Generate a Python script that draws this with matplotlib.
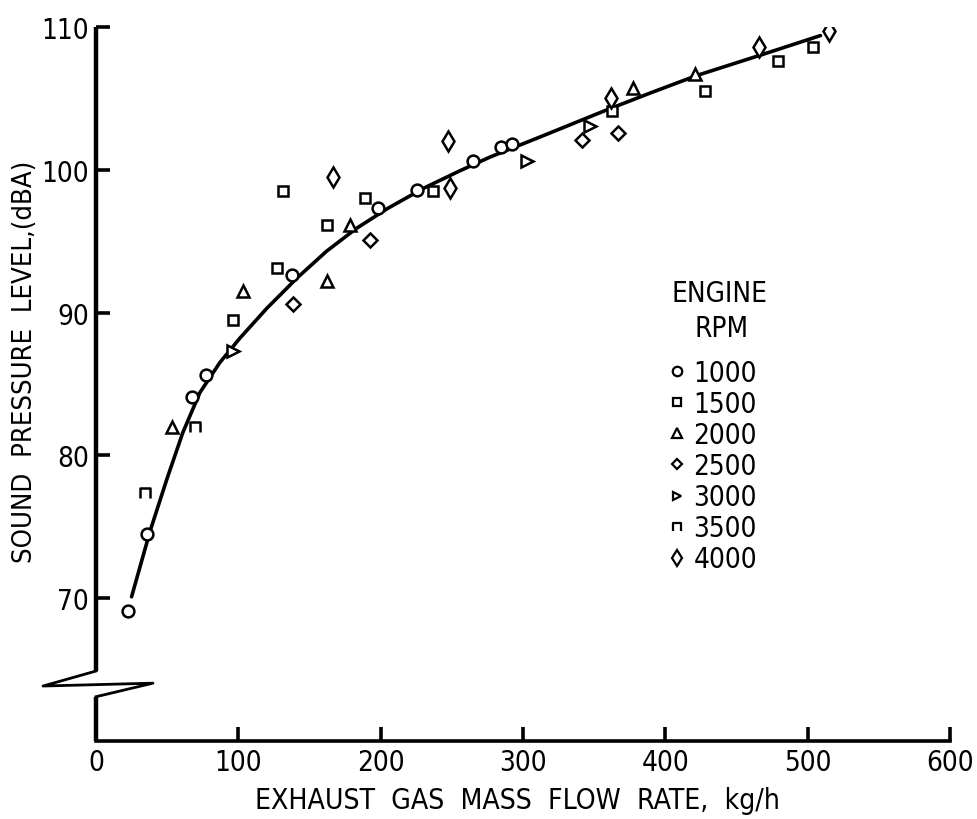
import matplotlib
matplotlib.use("Agg")
import matplotlib.pyplot as plt
from matplotlib import font_manager
from matplotlib.path import Path
from matplotlib.lines import Line2D

names = {f.name for f in font_manager.fontManager.ttflist}
if "Liberation Sans Narrow" in names:
    FONT = "Liberation Sans Narrow"
    STRETCH = "normal"
else:
    FONT = "DejaVu Sans"
    STRETCH = "condensed"
plt.rcParams["font.family"] = [FONT, "DejaVu Sans"]
plt.rcParams["font.stretch"] = STRETCH

# ---------------- data ----------------
rpm_labels = ["1000", "1500", "2000", "2500", "3000", "3500", "4000"]

x_1000 = [22.5, 35.8, 67.4, 77.3, 137.7, 198, 225.5, 264.9, 284.5, 292.3]
y_1000 = [69.1, 74.5, 84.1, 85.6, 92.6, 97.3, 98.6, 100.6, 101.6, 101.8]

x_1500 = [96.3, 127.2, 131.4, 162.3, 189, 236.8, 362.6, 428, 479, 503.8]
y_1500 = [89.5, 93.1, 98.5, 96.1, 98.0, 98.5, 104.1, 105.5, 107.6, 108.6]

x_2000 = [53.4, 103.3, 162.3, 178.5, 377.3, 420.9]
y_2000 = [82.0, 91.5, 92.2, 96.1, 105.7, 106.7]

x_2500 = [138.4, 192.5, 341.5, 366.8]
y_2500 = [90.6, 95.1, 102.1, 102.6]

x_3000 = [96.3, 302.8, 347]
y_3000 = [87.3, 100.6, 103.1]

x_3500 = [34.4, 69.6]
y_3500 = [77.4, 82.0]

x_4000 = [166.5, 248.7, 247.3, 361.8, 465.8, 515]
y_4000 = [99.5, 98.7, 102.0, 105.0, 108.6, 109.7]

curve_x = [25, 38, 50, 61, 73, 87, 101, 120, 141, 162, 183, 205, 230, 255, 277,
           312, 359, 390, 422, 469, 509]
curve_y = [70.1, 74.7, 78.4, 81.6, 84.4, 86.5, 88.2, 90.3, 92.4, 94.3, 95.9,
           97.3, 98.7, 99.9, 100.9, 102.3, 104.2, 105.4, 106.6, 108.1, 109.4]

x_ticks = [0, 100, 200, 300, 400, 500, 600]
y_ticks = [70, 80, 90, 100, 110]

# ---------------- markers ----------------
open_sq = Path([(-1, -0.9), (-1, 1), (1, 1), (1, -0.9)],
               [Path.MOVETO, Path.LINETO, Path.LINETO, Path.LINETO])

styles = {
    "1000": dict(marker="o", ms=8.5),
    "1500": dict(marker="s", ms=7.5),
    "2000": dict(marker="^", ms=8.5),
    "2500": dict(marker="D", ms=7),
    "3000": dict(marker=">", ms=8),
    "3500": dict(marker=open_sq, ms=7.5),
    "4000": dict(marker="d", ms=10),
}
series = {
    "1000": (x_1000, y_1000),
    "1500": (x_1500, y_1500),
    "2000": (x_2000, y_2000),
    "2500": (x_2500, y_2500),
    "3000": (x_3000, y_3000),
    "3500": (x_3500, y_3500),
    "4000": (x_4000, y_4000),
}

FS = 20

fig = plt.figure(figsize=(9.77, 8.2), dpi=100)
ax = fig.add_axes([96 / 977, 1 - 742 / 820, 854 / 977, 714 / 820])
ax.set_xlim(0, 600)
ax.set_ylim(60, 110)

ax.plot(curve_x, curve_y, color="black", lw=2.6, zorder=3, solid_capstyle="round",
        solid_joinstyle="round")

handles = []
for lab in rpm_labels:
    xs, ys = series[lab]
    st = styles[lab]
    ax.plot(xs, ys, linestyle="none", marker=st["marker"], ms=st["ms"],
            markerfacecolor="white", markeredgecolor="black", mew=1.8, zorder=4)
    handles.append(Line2D([], [], linestyle="none", marker=st["marker"],
                          ms=st["ms"] * 0.8, markerfacecolor="white",
                          markeredgecolor="black", mew=1.6))

# spines / axes
for s in ["top", "right", "left"]:
    ax.spines[s].set_visible(False)
ax.spines["bottom"].set_linewidth(2.6)

# left axis with break
yt = ax.get_yaxis_transform()
ax.plot([0, 0], [110, 64.9], color="black", lw=3.2, transform=yt, clip_on=False,
        solid_capstyle="butt")
ax.plot([0, -0.062, 0.0667, 0], [64.9, 63.85, 64.05, 63.1], color="black", lw=2.0,
        transform=yt, clip_on=False)
ax.plot([0, 0], [63.1, 60], color="black", lw=3.2, transform=yt, clip_on=False,
        solid_capstyle="butt")

ax.set_xticks(x_ticks)
ax.set_yticks(y_ticks)
ax.set_xticklabels([str(v) for v in x_ticks])
ax.set_yticklabels([str(v) for v in y_ticks])
ax.tick_params(axis="both", direction="in", length=10, width=2.6, labelsize=FS,
               pad=5)

ax.set_xlabel("EXHAUST  GAS  MASS  FLOW  RATE,  kg/h", fontsize=20.3)
ax.set_ylabel("SOUND  PRESSURE  LEVEL,(dBA)", fontsize=19.7)
ax.xaxis.set_label_coords((517 - 96) / 854, (742 - 787) / 714)
ax.yaxis.set_label_coords((38 - 96) / 854, (742 - 362) / 714)

# legend title (two centred lines) and entries
fig.text(720 / 977, 1 - 294 / 820, "ENGINE", ha="center", va="center", fontsize=FS)
fig.text(722 / 977, 1 - 329 / 820, "RPM", ha="center", va="center", fontsize=FS)
leg = ax.legend(handles, rpm_labels, loc="upper left",
                bbox_to_anchor=(667 / 977, 1 - 360 / 820),
                bbox_transform=fig.transFigure, frameon=False, fontsize=FS,
                handlelength=0.7, handletextpad=0.25,
                labelspacing=0.11, borderpad=0, borderaxespad=0)

fig.savefig("out.png", dpi=100)
